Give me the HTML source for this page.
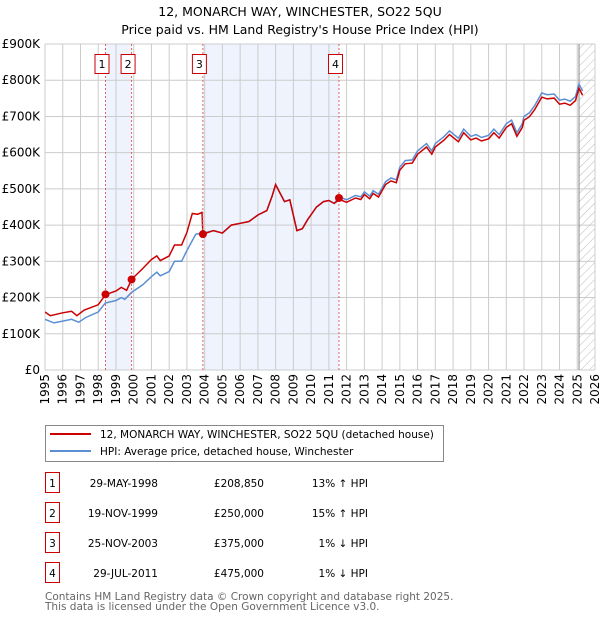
<!DOCTYPE html>
<html><head><meta charset="utf-8">
<style>
body{margin:0;background:#fff;width:600px;height:620px;overflow:hidden;font-family:"Liberation Sans","DejaVu Sans",sans-serif;}
</style></head><body>
<svg id="s" width="600" height="620" xmlns="http://www.w3.org/2000/svg" font-family="DejaVu Sans, Liberation Sans, sans-serif">
<defs>
<pattern id="h" patternUnits="userSpaceOnUse" width="6" height="6" patternTransform="rotate(45)">
<line x1="0" y1="0" x2="0" y2="6" stroke="#bbb" stroke-width="1"/>
</pattern>
<clipPath id="c"><rect x="45" y="44" width="550" height="326"/></clipPath>
</defs>
<text x="300" y="16" text-anchor="middle" font-size="12.5">12, MONARCH WAY, WINCHESTER, SO22 5QU</text>
<text x="300" y="34" text-anchor="middle" font-size="12.5">Price paid vs. HM Land Registry's House Price Index (HPI)</text>
<g id="bg"></g>
<g id="grid"></g>
<g id="lines" clip-path="url(#c)"></g>
<g id="labels" font-size="12"></g>
<rect x="45.5" y="425.5" width="398" height="36" fill="#fff" stroke="#888"/>
<line x1="50" y1="434" x2="91" y2="434" stroke="#cc0000" stroke-width="2"/>
<line x1="50" y1="451" x2="91" y2="451" stroke="#5b8fd4" stroke-width="2"/>
<text x="100" y="438" font-size="10.5">12, MONARCH WAY, WINCHESTER, SO22 5QU (detached house)</text>
<text x="100" y="455" font-size="10.5">HPI: Average price, detached house, Winchester</text>
<g font-size="10.5" id="tbl"></g>
<text x="45" y="600" font-size="10.5" fill="#666">Contains HM Land Registry data © Crown copyright and database right 2025.</text>
<text x="45" y="610" font-size="10.5" fill="#666">This data is licensed under the Open Government Licence v3.0.</text>
</svg>
<script>
var NS="http://www.w3.org/2000/svg";
function X(y){return 45+(y-1995)*17.742;}
function Y(v){return 370-v*0.3622;}
function el(p,t,a,txt){var e=document.createElementNS(NS,t);for(var k in a)e.setAttribute(k,a[k]);if(txt!=null)e.textContent=txt;document.getElementById(p).appendChild(e);return e;}
// shading
el("bg","rect",{x:X(1998.41),y:44,width:X(1999.88)-X(1998.41),height:326,fill:"#eef3fd"});
el("bg","rect",{x:X(2003.9),y:44,width:X(2011.57)-X(2003.9),height:326,fill:"#eef3fd"});
el("bg","rect",{x:X(2025.1),y:44,width:595-X(2025.1),height:326,fill:"url(#h)"});
for(var yr=1995;yr<=2026;yr++){el("grid","line",{x1:X(yr),y1:44,x2:X(yr),y2:370,stroke:"#ccc","stroke-width":1});
 var t=el("labels","text",{x:0,y:0,"text-anchor":"end",transform:"translate("+(X(yr)+4)+",374) rotate(-90)"},yr);}
for(var v=0;v<=900;v+=100){el("grid","line",{x1:45,y1:Y(v),x2:595,y2:Y(v),stroke:"#ccc","stroke-width":1});
 el("labels","text",{x:40,y:Y(v)+4,"text-anchor":"end"},v==0?"£0":"£"+v+"K");}
el("grid","line",{x1:X(2025.1),y1:44,x2:X(2025.1),y2:370,stroke:"#888","stroke-width":1});
var hpi=[[1995,140],[1995.5,130],[1996,135],[1996.5,140],[1996.9,132],[1997.3,145],[1998,160],[1998.4,185],[1999,192],[1999.3,200],[1999.5,195],[1999.9,215],[2000.5,235],[2001,258],[2001.3,270],[2001.5,260],[2002,272],[2002.3,300],[2002.7,300],[2003,330],[2003.5,375],[2003.9,378],[2004.5,385],[2005,378],[2005.5,400],[2006,405],[2006.5,410],[2007,428],[2007.5,440],[2007.8,480],[2008,512],[2008.5,465],[2008.8,470],[2009.2,385],[2009.5,390],[2009.8,415],[2010.3,450],[2010.7,465],[2011,468],[2011.3,460],[2011.6,478],[2012,470],[2012.5,482],[2012.8,478],[2013,492],[2013.3,480],[2013.5,495],[2013.8,485],[2014.2,520],[2014.5,530],[2014.8,525],[2015,560],[2015.3,578],[2015.7,580],[2016,605],[2016.5,625],[2016.8,605],[2017,625],[2017.5,645],[2017.8,660],[2018,652],[2018.3,640],[2018.6,665],[2019,645],[2019.3,650],[2019.6,642],[2020,648],[2020.3,665],[2020.6,650],[2021,680],[2021.3,690],[2021.6,655],[2021.9,680],[2022,700],[2022.3,710],[2022.6,730],[2023,765],[2023.3,760],[2023.7,762],[2024,745],[2024.3,748],[2024.6,742],[2024.9,755],[2025.1,790],[2025.3,770]];
var red=[[1995,160],[1995.3,150],[1996,158],[1996.5,162],[1996.8,150],[1997.2,165],[1998,180],[1998.41,208],[1999,218],[1999.3,228],[1999.6,220],[1999.88,250],[2000.5,280],[2001,305],[2001.3,315],[2001.5,302],[2002,315],[2002.3,345],[2002.7,345],[2003,380],[2003.3,432],[2003.6,430],[2003.85,435],[2003.9,375]];
hpi.forEach(function(p){if(p[0]>2003.9)red.push([p[0],p[0]>2011.57?p[1]*0.985:p[1]]);});
function path(a){return a.map(function(p,i){return (i?"L":"M")+X(p[0]).toFixed(1)+","+Y(p[1]).toFixed(1);}).join("");}
el("lines","path",{d:path(hpi),fill:"none",stroke:"#5b8fd4","stroke-width":1.5});
el("lines","path",{d:path(red),fill:"none",stroke:"#cc0000","stroke-width":1.5});
var sales=[[1998.41,208.85,"1"],[1999.88,250,"2"],[2003.9,375,"3"],[2011.57,475,"4"]];
sales.forEach(function(s){var x=X(s[0]);
 el("lines","line",{x1:x,y1:44,x2:x,y2:370,stroke:"#e06060","stroke-width":1,"stroke-dasharray":"2,2"});
 el("lines","circle",{cx:x,cy:Y(s[1]),r:4,fill:"#cc0000"});
 el("labels","rect",{x:x-10.5,y:54.5,width:14,height:19,fill:"#fff",stroke:"#cc0000"});
 el("labels","text",{x:x-3.5,y:68,"text-anchor":"middle","font-size":"11"},s[2]);});
var rows=[["1","29-MAY-1998","£208,850","13% ↑ HPI"],["2","19-NOV-1999","£250,000","15% ↑ HPI"],["3","25-NOV-2003","£375,000","1% ↓ HPI"],["4","29-JUL-2011","£475,000","1% ↓ HPI"]];
rows.forEach(function(r,i){var y=483+i*30;
 el("tbl","rect",{x:45.5,y:y-10.5,width:14,height:20,fill:"#fff",stroke:"#cc0000"});
 el("tbl","text",{x:52.5,y:y+4,"text-anchor":"middle"},r[0]);
 el("tbl","text",{x:158,y:y+4,"text-anchor":"end"},r[1]);
 el("tbl","text",{x:264,y:y+4,"text-anchor":"end"},r[2]);
 el("tbl","text",{x:368,y:y+4,"text-anchor":"end"},r[3]);});
</script>
</body></html>
